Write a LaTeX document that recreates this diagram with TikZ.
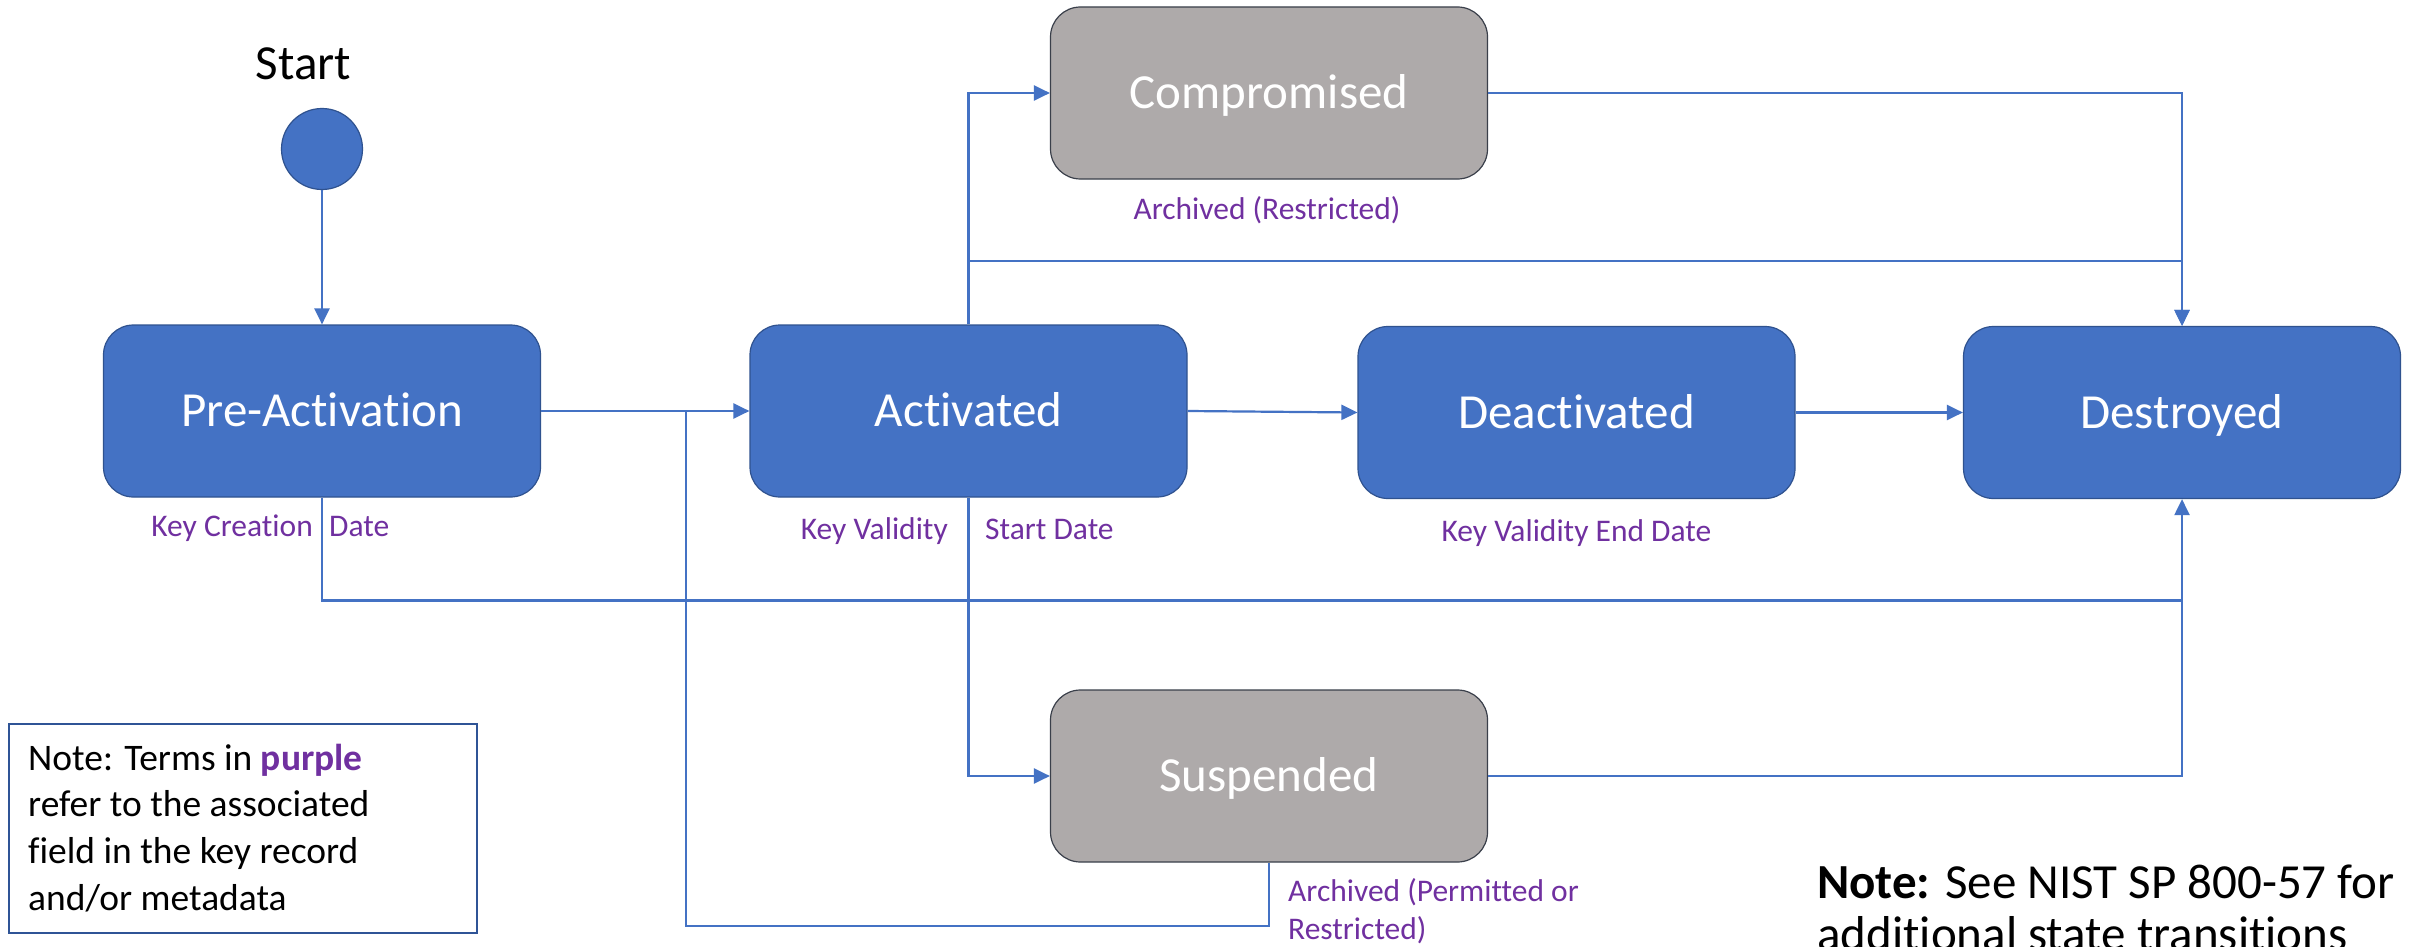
\documentclass[tikz,border=0pt]{standalone}
\usepackage{fontspec}
\setmainfont{Carlito}[Ligatures=CommonOff]
\usetikzlibrary{arrows.meta}
\definecolor{boxblue}{HTML}{4472C4}
\definecolor{boxedge}{HTML}{2F528F}
\definecolor{boxgrey}{HTML}{AEAAAA}
\definecolor{greyedge}{HTML}{3A3F4A}
\definecolor{lineblue}{HTML}{4472C4}
\definecolor{fieldpurple}{HTML}{7030A0}
\definecolor{noteedge}{HTML}{2F5496}
\newcommand{\fBig}{\fontsize{49}{59}\selectfont}
\newcommand{\fField}{\fontsize{31.5}{38.4}\selectfont}
\newcommand{\fNote}{\fontsize{37.5}{46.7}\selectfont}
\begin{document}
\begin{tikzpicture}[x=1pt,y=-1pt,
  statebox/.style={rounded corners=30pt, minimum width=437pt, minimum height=172pt,
    inner sep=0pt, text=white, font=\fBig, text height=31.5pt, text depth=0pt, line width=1.2pt},
  bluestate/.style={statebox, fill=boxblue, draw=boxedge},
  greystate/.style={statebox, fill=boxgrey, draw=greyedge},
  conn/.style={draw=lineblue, line width=2.2pt},
  arr/.style={conn, -{Triangle[length=16pt,width=15pt]}},
  field/.style={text=fieldpurple, font=\fField, inner sep=0pt},
  plain/.style={inner sep=0pt, text=black}
]
\useasboundingbox (0,0) rectangle (2422,947);
\fill[white] (0,0) rectangle (2422,947);

% states
\node[plain, font=\fBig, anchor=base] (starttext) at (303.5,80) {Start};
\node[circle, fill=boxblue, draw=boxedge, line width=1.2pt, minimum size=81pt, inner sep=0pt] (start) at (322,149) {};
\node[bluestate] (pre) at (322,411) {Pre-Activation};
\node[bluestate] (act) at (968.5,411) {Activated};
\node[bluestate] (deact) at (1576.5,412.5) {Deactivated};
\node[bluestate] (dest) at (2182,412.5) {Destroyed};
\node[greystate] (comp) at (1269,93) {Compromised};
\node[greystate] (susp) at (1269,776) {Suspended};

% field labels
\node[field, anchor=base east] (kc1) at (313,536) {Key Creation};
\node[field, anchor=base west] (kc2) at (329,536) {Date};
\node[field, anchor=base east] (kv1) at (948,539) {Key Validity};
\node[field, anchor=base west] (kv2) at (985,539) {Start Date};
\node[field, anchor=base] (kve) at (1576.5,541) {Key Validity End Date};
\node[field, anchor=base] (archr) at (1267,219) {Archived (Restricted)};
\node[field, anchor=base west] (archp1) at (1288,901) {Archived (Permitted or};
\node[field, anchor=base west] (archp2) at (1288,939) {Restricted)};

% notes
\node[draw=noteedge, line width=2pt, minimum width=468.5pt, minimum height=209pt,
      inner sep=0pt, anchor=north west] (notebox) at (7.5,722.7) {};
\node[plain, font=\fNote, anchor=base west] (nl1) at (28,770) {Note: Terms in \textbf{\textcolor{fieldpurple}{purple}}};
\node[plain, font=\fNote, anchor=base west] (nl2) at (28,816.7) {refer to the associated};
\node[plain, font=\fNote, anchor=base west] (nl3) at (28,863) {field in the key record};
\node[plain, font=\fNote, anchor=base west] (nl4) at (28,910.7) {and/or metadata};
\node[plain, font=\fBig, anchor=base west] (nist1) at (1817,898) {\textbf{Note:} See NIST SP 800-57 for};
\node[plain, font=\fBig, anchor=base west] (nist2) at (1817,950) {additional state transitions};

% connectors
\coordinate (b1) at (968.5,261);
\coordinate (m1) at (2182,600.5);
\coordinate (m2) at (686,411);
\coordinate (m3) at (1269,926);
\draw[conn] (pre.south) |- (m1);
\draw[conn] (susp.south) -- (m3) -| (m2);
\draw[arr] (start.south) -- (pre.north);
\draw[arr] (pre.east) -- (act.west);
\draw[arr] (act.east) -- (deact.west);
\draw[arr] (deact.east) -- (dest.west);
\draw[arr] (act.north) |- (comp.west);
\draw[arr] (comp.east) -| (dest.north);
\draw[arr] (b1) -| (dest.north);
\draw[arr] (act.south) |- (susp.west);
\draw[arr] (susp.east) -| (dest.south);
\end{tikzpicture}
\end{document}
